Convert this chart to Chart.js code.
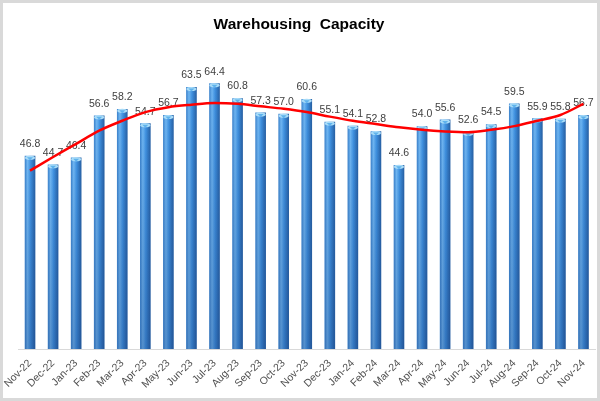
<!DOCTYPE html>
<html>
<head>
<meta charset="utf-8">
<script src="https://cdn.jsdelivr.net/npm/chart.js@4"></script>
<style>
html,body{margin:0;padding:0;background:#fff;}
#wrap{position:absolute;left:0;top:0;width:600px;height:401px;box-sizing:border-box;border:3px solid #d9d9d9;background:#fff;}
canvas{display:block;}
</style>
</head>
<body>
<div id="wrap"><canvas id="c" width="594" height="395"></canvas></div>
<script>
const categories = ["Nov-22","Dec-22","Jan-23","Feb-23","Mar-23","Apr-23","May-23","Jun-23","Jul-23","Aug-23","Sep-23","Oct-23","Nov-23","Dec-23","Jan-24","Feb-24","Mar-24","Apr-24","May-24","Jun-24","Jul-24","Aug-24","Sep-24","Oct-24","Nov-24"];
const capacityValues = [46.8,44.7,46.4,56.6,58.2,54.7,56.7,63.5,64.4,60.8,57.3,57.0,60.6,55.1,54.1,52.8,44.6,54.0,55.6,52.6,54.5,59.5,55.9,55.8,56.7];
const trendValues = [43.3,46.6,49.8,53.0,55.4,57.5,58.7,59.3,59.7,59.5,58.9,58.3,57.5,56.4,55.4,54.6,53.8,53.2,52.8,52.6,53.2,54.1,55.4,56.8,59.5];
const chartTitle = "Warehousing  Capacity";

function barFill(ctx){
  const chart = ctx.chart;
  const xs = chart.scales && chart.scales.x;
  if (!xs || ctx.dataIndex === undefined) return '#3b8fdc';
  const cx = xs.getPixelForValue(ctx.dataIndex);
  if (!isFinite(cx)) return '#3b8fdc';
  const g = chart.ctx.createLinearGradient(cx-5,0,cx+5,0);
  g.addColorStop(0,'#3f86cf');
  g.addColorStop(0.25,'#6fb6f2');
  g.addColorStop(0.55,'#3f91e0');
  g.addColorStop(1,'#2862a6');
  return g;
}

const barDecor = {
  id:'barDecor',
  afterDatasetDraw(chart, args){
    if (args.index !== 0) return;
    const c = chart.ctx;
    const meta = args.meta;
    c.save();
    meta.data.forEach((el, i) => {
      const w = el.width, x0 = el.x - w/2;
      const vg = c.createLinearGradient(0, el.y, 0, el.base);
      vg.addColorStop(0,'rgba(20,50,110,0)');
      vg.addColorStop(1,'rgba(20,50,110,0.28)');
      c.fillStyle = vg;
      c.fillRect(x0, el.y, w, el.base - el.y);
      c.fillStyle = '#a9dcf8';
      c.beginPath();
      c.ellipse(el.x, el.y + 1.5, w/2, 2, 0, 0, Math.PI*2);
      c.fill();
      c.fillStyle = '#5fb2ec';
      c.beginPath();
      c.moveTo(el.x - 3, el.y + 1);
      c.lineTo(el.x + 3, el.y + 1);
      c.lineTo(el.x, el.y + 4);
      c.closePath();
      c.fill();
      c.fillStyle = '#404040';
      c.font = '10.5px "Liberation Sans", Arial, sans-serif';
      c.textAlign = 'center';
      c.textBaseline = 'middle';
      c.fillText(capacityValues[i].toFixed(1), el.x, el.y - 12);
    });
    c.restore();
  }
};

new Chart(document.getElementById('c'), {
  data: {
    labels: categories,
    datasets: [
      {
        type: 'bar',
        label: 'Warehousing Capacity',
        data: capacityValues,
        backgroundColor: barFill,
        borderWidth: 0,
        barThickness: 10,
        order: 1
      },
      {
        type: 'line',
        label: 'Trend',
        data: trendValues,
        borderColor: '#ff0000',
        borderWidth: 2.5,
        pointRadius: 0,
        tension: 0.4,
        cubicInterpolationMode: 'monotone',
        fill: false,
        order: 0
      }
    ]
  },
  options: {
    responsive: false,
    animation: false,
    layout: { padding: { left: 0, right: 2, top: 12, bottom: 0 } },
    plugins: {
      legend: { display: false },
      tooltip: { enabled: false },
      title: {
        display: true,
        text: chartTitle,
        color: '#000000',
        font: { family: '"Liberation Sans", Arial, sans-serif', size: 15.5, weight: 'bold' },
        padding: { top: 0, bottom: 27 }
      }
    },
    scales: {
      x: {
        offset: true,
        grid: { display: false },
        border: { display: true, color: '#d9d9d9', width: 1 },
        ticks: {
          minRotation: 45, maxRotation: 45, autoSkip: false,
          color: '#505050', padding: 0,
          font: { family: '"Liberation Sans", Arial, sans-serif', size: 10.5 }
        },
        afterFit(scale){ scale.height = 49; scale.paddingLeft = 15.5; }
      },
      y: {
        display: false,
        min: 0,
        max: 70
      }
    }
  },
  plugins: [barDecor]
});
</script>
</body>
</html>
